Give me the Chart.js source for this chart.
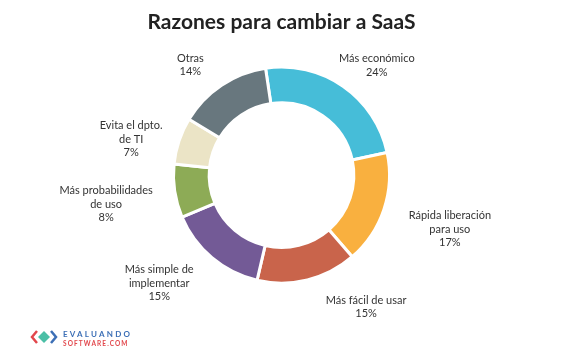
<!DOCTYPE html>
<html lang="es">
<head>
<meta charset="utf-8">
<title>Razones para cambiar a SaaS</title>
<script src="https://cdn.jsdelivr.net/npm/chart.js@4.4.1/dist/chart.umd.min.js"></script>
<style>
    html, body { margin: 0; padding: 0; background: #ffffff; }
    #grafica { display: block; }
</style>
</head>
<body>
<canvas id="grafica" width="563" height="353"></canvas>
<script>
// Datos de la gráfica
const categorias = [
    ['Más económico'],
    ['Rápida liberación', 'para uso'],
    ['Más fácil de usar'],
    ['Más simple de', 'implementar'],
    ['Más probabilidades', 'de uso'],
    ['Evita el dpto.', 'de TI'],
    ['Otras']
];
const porcentajes = [24, 17, 15, 15, 8, 7, 14];
const colores = ['#46bdd8', '#f9b03f', '#c9644b', '#735a96', '#8dab56', '#ebe4c6', '#68777e'];

// Ajuste fino de cada etiqueta respecto a su punto sobre el arco
const ajusteEtiquetas = [[11, 12], [28, 7], [49, -12], [-27, -5], [-29, 7], [-10, 11], [-9, 13]];

const FUENTE = 'Lato, "Noto Sans", sans-serif';

// Etiquetas fuera del anillo, ancladas al ángulo medio de cada sector
const etiquetasExternas = {
    id: 'etiquetasExternas',
    afterDatasetsDraw(chart) {
        const ctx = chart.ctx;
        const arcos = chart.getDatasetMeta(0).data;
        ctx.save();
        ctx.font = '11px ' + FUENTE;
        ctx.fillStyle = '#333333';
        ctx.textAlign = 'center';
        ctx.textBaseline = 'middle';
        const alto = 13.5;
        arcos.forEach((arco, i) => {
            const medio = (arco.startAngle + arco.endAngle) / 2;
            const r = arco.outerRadius + 40;
            const cx = arco.x + Math.cos(medio) * r + ajusteEtiquetas[i][0];
            const cy = arco.y + Math.sin(medio) * r + ajusteEtiquetas[i][1];
            const lineas = categorias[i].concat([porcentajes[i] + '%']);
            const y0 = cy - (lineas.length - 1) * alto / 2;
            lineas.forEach((txt, j) => ctx.fillText(txt, cx, y0 + j * alto));
        });
        ctx.restore();
    }
};

// Logo de la esquina inferior izquierda
const logo = {
    id: 'logo',
    afterDraw(chart) {
        const ctx = chart.ctx;
        ctx.save();
        // chevron rojo
        ctx.strokeStyle = '#e2474c';
        ctx.lineWidth = 2.5;
        ctx.beginPath();
        ctx.moveTo(37, 331);
        ctx.lineTo(32, 337);
        ctx.lineTo(37, 343);
        ctx.stroke();
        // rombo verde
        ctx.fillStyle = '#4bbfa6';
        ctx.beginPath();
        ctx.moveTo(44, 331);
        ctx.lineTo(50, 337);
        ctx.lineTo(44, 343);
        ctx.lineTo(38, 337);
        ctx.closePath();
        ctx.fill();
        // chevron azul
        ctx.strokeStyle = '#3c6fb6';
        ctx.beginPath();
        ctx.moveTo(51, 331);
        ctx.lineTo(56, 337);
        ctx.lineTo(51, 343);
        ctx.stroke();
        // texto
        ctx.textAlign = 'left';
        ctx.textBaseline = 'alphabetic';
        ctx.fillStyle = '#3c6fb6';
        ctx.font = 'bold 8px ' + FUENTE;
        ctx.letterSpacing = '2.2px';
        ctx.fillText('EVALUANDO', 63, 337);
        ctx.fillStyle = '#e2474c';
        ctx.font = 'bold 6.5px ' + FUENTE;
        ctx.letterSpacing = '1.1px';
        ctx.fillText('SOFTWARE.COM', 63, 346);
        ctx.restore();
    }
};

const ctx = document.getElementById('grafica').getContext('2d');
const grafica = new Chart(ctx, {
    type: 'doughnut',
    data: {
        labels: categorias,
        datasets: [{
            data: porcentajes,
            backgroundColor: colores,
            borderColor: '#ffffff',
            borderWidth: 3,
            hoverOffset: 0,
            offset: 0
        }]
    },
    options: {
        responsive: false,
        animation: false,
        radius: 108,
        cutout: '67%',
        rotation: -8.5,
        layout: {
            padding: { top: 0, bottom: 48, left: 0, right: 0 }
        },
        plugins: {
            legend: { display: false },
            tooltip: { enabled: false },
            title: {
                display: true,
                text: 'Razones para cambiar a SaaS',
                color: '#222222',
                font: { family: FUENTE, size: 21, weight: 'bold' },
                padding: { top: 10, bottom: 10 }
            }
        }
    },
    plugins: [etiquetasExternas, logo]
});
</script>
</body>
</html>
